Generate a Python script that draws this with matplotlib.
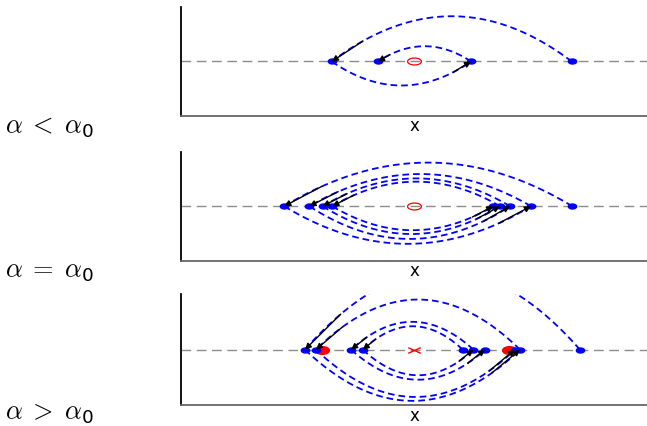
import numpy as np
import matplotlib
matplotlib.use("Agg")
import matplotlib.pyplot as plt
from matplotlib.path import Path
from matplotlib.transforms import Affine2D

plt.rcParams['mathtext.fontset'] = 'cm'

# iterates along the x axis and signed arc heights between them
p1_x = [0.677, -0.353, 0.245, -0.155]
p1_h = [0.83, -0.44, 0.28]

p2_x = [0.679, -0.557, 0.502, -0.449, 0.412, -0.392, 0.369, -0.351, 0.340]
p2_h = [0.80, -0.69, 0.59, -0.60, 0.51, -0.51, 0.45, -0.44]

p3_outer_x = [0.712, -0.468, 0.455, -0.421, 0.433]
p3_outer_h = [1.41, -0.92, 0.90, -0.85]
p3_inner_x = [0.209, -0.220, 0.255, -0.270, 0.305]
p3_inner_h = [0.42, -0.46, 0.50, -0.54]

fixed_pt = 0.0
cycle_pts = [-0.396, 0.409]

labels = [r'$\alpha\;<\;\alpha_{\mathregular{0}}$', r'$\alpha\;=\;\alpha_{\mathregular{0}}$',
          r'$\alpha\;>\;\alpha_{\mathregular{0}}$']


def ellipse(r):
    return Path.unit_circle().transformed(Affine2D().scale(1, r))


cross = Path([(-1, -0.45), (1, 0.45), (-1, 0.45), (1, -0.45)],
             [Path.MOVETO, Path.LINETO, Path.MOVETO, Path.LINETO])


def draw_orbit(ax, xs, hs):
    t = np.linspace(0, 1, 80)
    for i, h in enumerate(hs):
        a, b = xs[i], xs[i + 1]
        cx = a + (b - a) * t
        cy = 4 * h * t * (1 - t)
        ax.plot(cx, cy, color='b', lw=1.3, ls=(0, (3.7, 2.2)), zorder=2)
        ts = 0.87
        ax.annotate('', xy=(b, 0), xytext=(a + (b - a) * ts, 4 * h * ts * (1 - ts)),
                    arrowprops=dict(arrowstyle='-|>', color='k', lw=1,
                                    mutation_scale=9, shrinkA=0, shrinkB=0),
                    zorder=5)
    ax.plot(xs, np.zeros(len(xs)), ls='none', marker=ellipse(0.6), ms=6,
            color='b', zorder=4)


fig = plt.figure(figsize=(6.47, 4.26), dpi=100)
boxes = [(0.2798, 0.7277, 0.7202, 0.2559),
         (0.2798, 0.3880, 0.7202, 0.2559),
         (0.2798, 0.0486, 0.7202, 0.2613)]
axes = []
for box in boxes:
    ax = fig.add_axes(box)
    ax.set_xlim(-1, 1)
    ax.set_ylim(-1, 1)
    ax.set_xticks([])
    ax.set_yticks([])
    ax.spines['top'].set_visible(False)
    ax.spines['right'].set_visible(False)
    ax.spines['left'].set_linewidth(1.3)
    ax.spines['bottom'].set_linewidth(1.3)
    ax.spines['bottom'].set_color('0.4')
    ax.axhline(0, color='0.55', lw=1, ls=(0, (7, 4)), zorder=1)
    ax.set_xlabel('x', fontsize=12, labelpad=1)
    axes.append(ax)

draw_orbit(axes[0], p1_x, p1_h)
draw_orbit(axes[1], p2_x, p2_h)
draw_orbit(axes[2], p3_outer_x, p3_outer_h)
draw_orbit(axes[2], p3_inner_x, p3_inner_h)

for ax in axes[:2]:
    ax.plot([fixed_pt], [0], ls='none', marker=ellipse(0.5), ms=10,
            mfc='none', mec='r', mew=0.9, zorder=3)
axes[2].plot([fixed_pt], [0], ls='none', marker=cross, ms=9, mec='r',
             mew=1, zorder=3)
axes[2].plot(cycle_pts, [0, 0], ls='none', marker=ellipse(0.55), ms=10,
             color='r', zorder=3)

for lab, yb in zip(labels, [0.686, 0.349, 0.016]):
    fig.text(0.008, yb, lab, fontsize=19, va='baseline', ha='left')

fig.savefig('out.png', dpi=100)
